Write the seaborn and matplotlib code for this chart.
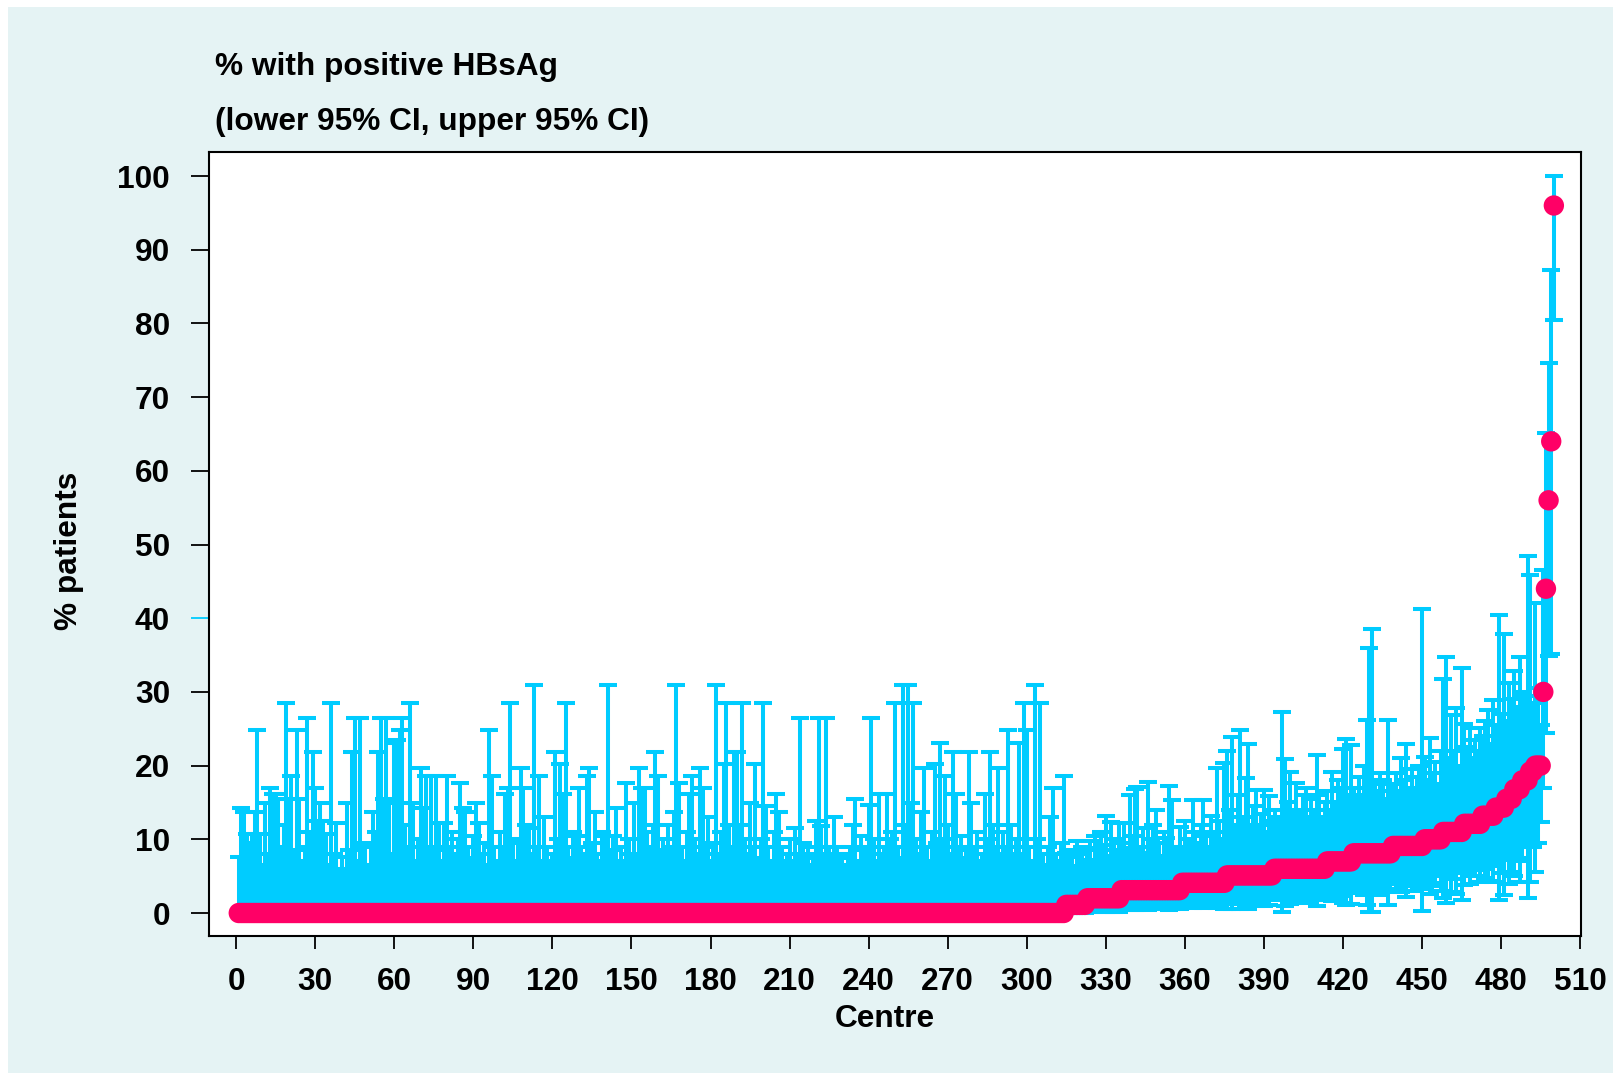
import matplotlib
matplotlib.use("Agg")
import matplotlib.pyplot as plt
import seaborn as sns
import pandas as pd
import numpy as np
from matplotlib.patches import Rectangle

# ---------------- data ----------------
n_centres = 500
n_zero = 314

# upper 95% CI of the 314 centres with 0% positive
upper_zero = [
    7.6, 14.3, 13.7, 10.7, 9.5, 10.7, 13.7, 24.8, 10.7, 6.5,
    14.9, 8.0, 17.0, 16.2, 16.2, 15.5, 9.0, 12.0, 28.5, 15.5,
    18.6, 8.5, 24.8, 15.5, 7.0, 9.0, 26.5, 11.0, 21.9, 17.0,
    12.5, 14.9, 12.5, 10.7, 6.5, 28.5, 8.0, 12.2, 6.0, 7.6,
    6.0, 14.9, 8.5, 21.9, 26.5, 7.0, 26.5, 9.5, 9.0, 6.5,
    9.0, 13.7, 11.0, 21.9, 26.5, 15.5, 26.5, 14.9, 8.0, 23.1,
    23.5, 24.8, 26.5, 12.0, 9.0, 28.5, 14.9, 7.0, 10.0, 19.7,
    14.3, 18.6, 9.0, 18.6, 8.5, 18.6, 12.2, 7.0, 12.2, 18.6,
    9.0, 11.0, 8.0, 10.0, 17.7, 14.3, 13.7, 9.0, 7.5, 10.5,
    14.9, 12.2, 8.0, 9.5, 6.5, 24.8, 18.6, 9.0, 7.0, 11.0,
    9.0, 16.2, 17.0, 28.5, 9.5, 7.0, 10.0, 19.7, 17.0, 12.0,
    11.5, 8.0, 30.9, 9.0, 18.6, 7.0, 13.0, 9.0, 6.5, 8.0,
    21.9, 10.0, 20.2, 16.2, 28.5, 9.0, 7.5, 11.0, 10.5, 17.0,
    9.0, 8.0, 18.6, 19.7, 9.5, 13.7, 8.0, 7.0, 11.0, 10.5,
    30.9, 8.5, 10.5, 14.3, 7.0, 9.0, 6.5, 17.7, 10.0, 8.0,
    14.9, 7.5, 19.7, 17.0, 17.0, 11.0, 9.0, 12.0, 21.9, 18.6,
    8.0, 10.0, 8.5, 12.0, 9.0, 13.7, 30.9, 17.7, 9.0, 7.0,
    11.0, 16.2, 18.6, 10.0, 8.0, 19.7, 17.0, 9.0, 13.0, 7.0,
    9.5, 30.9, 8.0, 11.0, 20.2, 28.5, 12.0, 9.0, 21.9, 21.9,
    12.0, 28.5, 10.0, 8.0, 14.9, 9.0, 20.2, 7.5, 10.0, 28.5,
    14.5, 9.0, 7.0, 11.0, 16.2, 13.7, 9.0, 6.5, 8.0, 10.0,
    7.0, 11.5, 8.0, 26.5, 9.5, 7.5, 9.0, 6.5, 8.0, 12.5,
    26.5, 11.8, 8.0, 26.5, 9.0, 7.0, 13.0, 9.0, 7.5, 8.0,
    6.5, 8.0, 9.0, 11.9, 15.5, 7.0, 10.4, 8.5, 9.0, 14.6,
    26.5, 10.0, 7.0, 16.2, 8.0, 9.0, 16.2, 10.0, 11.0, 28.5,
    9.0, 7.5, 30.9, 12.0, 30.9, 14.9, 28.5, 10.0, 8.0, 13.7,
    19.7, 9.0, 7.0, 11.0, 20.2, 9.5, 23.1, 10.0, 18.6, 12.0,
    8.0, 21.9, 16.2, 9.0, 10.5, 7.5, 8.5, 21.9, 14.9, 9.0,
    11.0, 7.0, 8.0, 16.2, 10.0, 21.9, 12.0, 9.0, 19.7, 8.0,
    11.0, 9.0, 24.8, 11.9, 7.5, 10.0, 23.1, 8.0, 28.5, 24.8,
    9.0, 7.0, 30.9, 10.0, 28.5, 8.0, 6.5, 9.0, 13.0, 17.0,
    8.0, 7.0, 9.5, 18.6,
]

# centres 315..500 (sorted, non-zero %)
pct_pos = [
    1.1, 1.1, 1.1, 1.1, 1.1, 1.1, 1.1, 1.1,
    2.0, 2.0, 2.0, 2.0, 2.0, 2.0, 2.0, 2.0, 2.0, 2.0, 2.0, 2.0, 2.0,
    3.1, 3.1, 3.1, 3.1, 3.1, 3.1, 3.1, 3.1, 3.1, 3.1, 3.1, 3.1,
    3.1, 3.1, 3.1, 3.1, 3.1, 3.1, 3.1, 3.1, 3.1, 3.1, 3.1,
    4.1, 4.1, 4.1, 4.1, 4.1, 4.1, 4.1, 4.1, 4.1, 4.1, 4.1, 4.1,
    4.1, 4.1, 4.1, 4.1, 4.1,
    5.1, 5.1, 5.1, 5.1, 5.1, 5.1, 5.1, 5.1, 5.1, 5.1, 5.1, 5.1,
    5.1, 5.1, 5.1, 5.1, 5.1, 5.1,
    6.0, 6.0, 6.0, 6.0, 6.0, 6.0, 6.0, 6.0, 6.0, 6.0, 6.0, 6.0,
    6.0, 6.0, 6.0, 6.0, 6.0, 6.0, 6.0, 6.0,
    7.0, 7.0, 7.0, 7.0, 7.0, 7.0, 7.0, 7.0, 7.0, 7.0,
    8.1, 8.1, 8.1, 8.1, 8.1, 8.1, 8.1, 8.1, 8.1, 8.1, 8.1, 8.1,
    8.1, 8.1, 8.1,
    9.1, 9.1, 9.1, 9.1, 9.1, 9.1, 9.1, 9.1, 9.1, 9.1, 9.1, 9.1,
    10.0, 10.0, 10.0, 10.0, 10.0, 10.0, 10.0,
    11.0, 11.0, 11.0, 11.0, 11.0, 11.0, 11.0, 11.0,
    12.1, 12.1, 12.1, 12.1, 12.1, 12.1, 12.1,
    13.2, 13.2, 13.2, 13.2, 13.2,
    14.3, 14.3, 14.3, 14.3,
    15.5, 15.5, 15.5,
    16.8, 16.8, 16.8,
    18.0, 18.0, 18.0,
    19.2, 19.2,
    20.0, 20.0, 20.0,
    30.0, 44.0, 56.0, 64.0, 96.0,
]

lower_pos = [
    0.03, 0.03, 0.03, 0.02, 0.04, 0.03, 0.03, 0.02,
    0.2, 0.3, 0.2, 0.4, 0.3, 0.2, 0.3, 0.1, 0.3, 0.1, 0.2, 0.3, 0.2,
    0.8, 0.5, 0.9, 0.4, 0.7, 0.4, 0.4, 0.9, 0.6, 1.0, 0.4, 0.7,
    0.6, 0.5, 0.8, 1.1, 0.6, 0.7, 0.4, 0.5, 0.9, 1.0, 0.6,
    1.3, 0.9, 1.1, 1.5, 0.7, 1.0, 1.2, 0.9, 0.7, 1.1, 1.4, 0.8,
    1.0, 0.7, 0.9, 1.2, 0.6,
    0.6, 1.5, 0.6, 2.0, 1.2, 0.5, 1.8, 0.9, 0.6, 2.1, 1.4, 1.0,
    1.9, 1.6, 1.0, 2.2, 1.1, 1.7,
    2.0, 2.2, 2.6, 0.2, 1.0, 1.9, 1.2, 2.3, 1.5, 2.1, 2.5, 1.7,
    1.4, 2.4, 1.8, 2.0, 1.0, 1.7, 2.4, 1.9,
    2.2, 2.8, 1.6, 2.6, 1.9, 2.3, 1.3, 1.1, 2.7, 1.2,
    3.2, 3.8, 2.9, 3.5, 2.5, 1.1, 0.2, 0.2, 3.0, 3.4, 2.4, 2.8,
    3.9, 1.1, 3.1,
    3.9, 3.2, 4.3, 2.8, 3.6, 2.2, 4.1, 3.0, 4.4, 3.7, 3.3, 0.23,
    3.2, 4.5, 2.6, 4.1, 3.6, 5.0, 3.0,
    2.0, 1.4, 5.0, 2.8, 4.6, 2.6, 5.4, 1.7,
    3.8, 5.5, 4.0, 6.2, 5.0, 5.8, 4.2,
    6.0, 4.8, 4.4, 6.6, 4.2,
    6.4, 1.8, 5.4, 2.5,
    7.2, 4.0, 5.6,
    5.0, 7.5, 4.2,
    7.0, 9.0, 2.1,
    4.2, 9.0,
    5.6, 9.5, 12.4,
    16.9, 24.4, 34.9, 35.1, 80.5,
]

upper_pos = [
    8.1, 7.6, 8.5, 6.4, 9.8, 8.0, 9.0, 7.0,
    8.5, 9.8, 7.2, 10.5, 8.8, 11.0, 9.2, 13.1, 7.8, 12.4, 10.0, 8.6, 12.2,
    9.5, 12.2, 8.8, 16.0, 10.5, 16.8, 17.1, 9.0, 11.5, 8.2, 17.8, 10.0,
    12.0, 14.0, 9.5, 7.8, 11.0, 10.2, 17.2, 15.4, 9.0, 8.5, 11.7,
    9.0, 12.5, 10.0, 8.5, 15.3, 11.0, 9.5, 12.0, 15.3, 10.5, 9.0, 13.1,
    11.0, 19.7, 12.5, 10.0, 20.4,
    22.0, 14.0, 23.9, 12.0, 16.0, 24.8, 13.0, 18.3, 22.9, 11.5, 14.5, 16.7,
    12.0, 13.5, 16.7, 11.0, 15.9, 12.5,
    14.0, 13.0, 12.0, 27.3, 20.9, 15.0, 19.2, 13.5, 17.6, 14.0, 12.5, 16.0,
    17.0, 13.0, 15.5, 14.0, 21.4, 16.0, 13.0, 15.0,
    16.5, 14.0, 19.2, 15.0, 18.0, 17.0, 22.2, 23.6, 16.0, 22.8,
    17.0, 15.5, 18.5, 16.0, 20.0, 26.2, 36.0, 38.5, 17.5, 16.5, 19.0, 18.0,
    15.5, 26.2, 17.5,
    17.5, 19.0, 16.5, 21.0, 18.0, 23.0, 17.0, 19.5, 16.5, 18.5, 20.0, 41.3,
    21.2, 18.0, 23.7, 19.0, 20.5, 17.5, 22.0,
    31.7, 34.8, 21.0, 26.8, 22.0, 27.8, 20.0, 33.2,
    25.7, 22.5, 25.1, 21.0, 23.5, 22.0, 25.1,
    24.0, 26.0, 27.5, 23.0, 28.9,
    25.5, 40.4, 27.0, 37.8,
    26.0, 31.2, 29.0,
    32.9, 28.0, 34.8,
    30.0, 29.5, 48.4,
    45.9, 28.5,
    42.0, 30.5, 25.5,
    46.5, 65.1, 74.6, 87.2, 100.0,
]

x_ticks = list(range(0, 511, 30))
y_ticks = list(range(0, 101, 10))

title_1 = "% with positive HBsAg"
title_2 = "(lower 95% CI, upper 95% CI)"
x_label = "Centre"
y_label = "% patients"

# ---------------- build table ----------------
centre = np.arange(1, n_centres + 1)
pct = np.array([0.0] * n_zero + pct_pos)
lower = np.array([0.0] * n_zero + lower_pos)
upper = np.array(upper_zero + upper_pos)
df = pd.DataFrame({"centre": centre, "pct": pct, "lower": lower, "upper": upper})

# ---------------- style ----------------
CYAN = "#00ccff"
PINK = "#ff0066"
PANEL = "#e5f3f4"

sns.set_style("white")
plt.rcParams["font.family"] = ["Liberation Sans", "DejaVu Sans"]
plt.rcParams["font.weight"] = "bold"
for k in ["text.color", "axes.labelcolor", "xtick.color", "ytick.color",
          "xtick.labelcolor", "ytick.labelcolor"]:
    plt.rcParams[k] = "black"

W, H = 1621, 1077
fig = plt.figure(figsize=(W / 100, H / 100), dpi=100)
fig.patch.set_facecolor("white")
fig.add_artist(Rectangle((8 / W, 4 / H), (W - 16) / W, (H - 11) / H,
                         transform=fig.transFigure, facecolor=PANEL,
                         edgecolor="none", zorder=-10))

ax = fig.add_axes([209 / W, 1 - 936 / H, (1581 - 209) / W, (936 - 152) / H])
ax.set_facecolor("white")

ax.errorbar(df["centre"], df["pct"],
            yerr=[df["pct"] - df["lower"], df["upper"] - df["pct"]],
            fmt="none", ecolor=CYAN, elinewidth=2.9, capsize=6.2,
            capthick=2.9, zorder=2)
sns.scatterplot(data=df, x="centre", y="pct", color=PINK, s=215,
                edgecolor="none", linewidth=0, ax=ax, zorder=3)

ax.set_xlim(-10.3, 510.3)
ax.set_ylim(-3.12, 103.26)
ax.set_xticks(x_ticks)
ax.set_yticks(y_ticks)
ax.set_xlabel("")
ax.set_ylabel("")
for s in ax.spines.values():
    s.set_visible(True)
    s.set_color("black")
    s.set_linewidth(1.5)

ax.tick_params(axis="x", direction="out", length=9.5, width=1.3, pad=13,
               labelsize=22.8, color="black", labelcolor="black", bottom=True)
ax.tick_params(axis="y", direction="out", length=13, width=1.3, pad=15,
               labelsize=22.8, color="black", labelcolor="black", left=True)
for lab in ax.get_xticklabels() + ax.get_yticklabels():
    lab.set_fontweight("bold")
t40 = ax.yaxis.get_major_ticks()[4]
t40.tick1line.set_color(CYAN)
t40.tick1line.set_markeredgecolor(CYAN)

fig.text(215 / W, 1 - 67 / H, title_1, ha="left", va="center",
         fontsize=22.8, fontweight="bold", color="black")
fig.text(215 / W, 1 - 122 / H, title_2, ha="left", va="center",
         fontsize=22.8, fontweight="bold", color="black")
fig.text(69 / W, 1 - 551 / H, y_label, rotation=90, ha="center",
         va="center", fontsize=22.8, fontweight="bold", color="black")
fig.text(885 / W, 1 - 1019 / H, x_label, ha="center", va="center",
         fontsize=22.8, fontweight="bold", color="black")

fig.savefig("out.png", dpi=100, facecolor="white")
